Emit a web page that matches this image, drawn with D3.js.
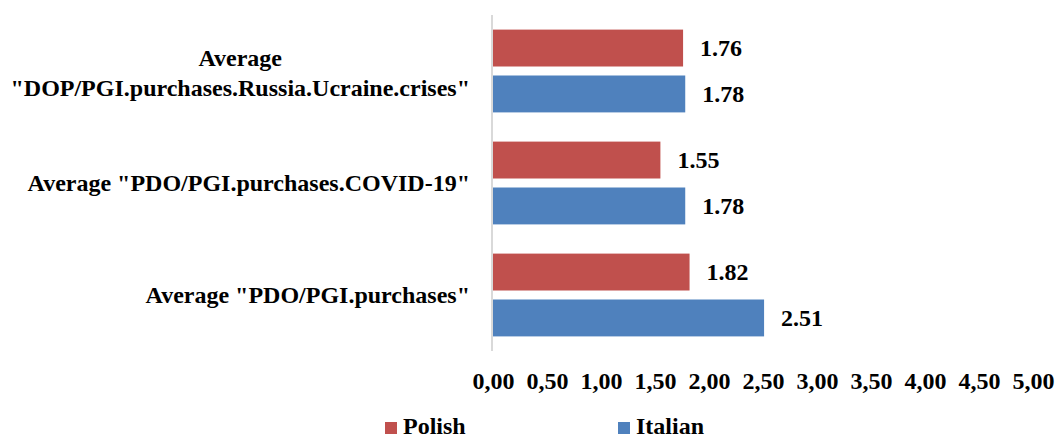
<!DOCTYPE html>
<html>
<head>
<meta charset="utf-8">
<script src="https://cdn.jsdelivr.net/npm/d3@7"></script>
<style>
  body { margin: 0; background: #fff; }
  text { font-family: "Liberation Serif", "Times New Roman", serif; font-weight: bold; fill: #000; }
</style>
</head>
<body>
<div id="chart"></div>
<script>
// Data
const categories = [
    ['Average', '"DOP/PGI.purchases.Russia.Ucraine.crises"'],
    ['Average "PDO/PGI.purchases.COVID-19"'],
    ['Average "PDO/PGI.purchases"']
];
const seriesNames = ['Polish', 'Italian'];
const polishValues = [1.76, 1.55, 1.82];
const italianValues = [1.78, 1.78, 2.51];
const tickValues = [0, 0.5, 1, 1.5, 2, 2.5, 3, 3.5, 4, 4.5, 5];
const colors = ['#c0504d', '#4f81bd'];

const width = 1061, height = 437;
const plotLeft = 493, plotRight = 1033, plotTop = 15, plotBottom = 351;
const fontSize = 24;

const svg = d3.select('#chart').append('svg')
    .attr('width', width)
    .attr('height', height);

const x = d3.scaleLinear().domain([0, 5]).range([plotLeft, plotRight]);
const y0 = d3.scaleBand().domain(d3.range(categories.length)).range([plotTop, plotBottom]).padding(0);
const y1 = d3.scaleBand().domain(seriesNames).range([0, y0.bandwidth()])
    .paddingInner(0.196).paddingOuter(0.318);

const rows = categories.map((c, i) => ({
    i: i,
    label: c,
    values: [polishValues[i], italianValues[i]]
}));

// Bars
const groups = svg.selectAll('.group')
    .data(rows)
    .enter()
    .append('g')
    .attr('class', 'group')
    .attr('transform', d => `translate(0, ${y0(d.i)})`);

groups.selectAll('rect')
    .data(d => d.values.map((v, j) => ({ name: seriesNames[j], value: v, j: j })))
    .enter()
    .append('rect')
    .attr('x', x(0))
    .attr('y', d => y1(d.name))
    .attr('width', d => x(d.value) - x(0))
    .attr('height', y1.bandwidth())
    .attr('fill', d => colors[d.j]);

// Value labels
groups.selectAll('.val')
    .data(d => d.values.map((v, j) => ({ name: seriesNames[j], value: v })))
    .enter()
    .append('text')
    .attr('class', 'val')
    .attr('x', d => x(d.value) + 17)
    .attr('y', d => y1(d.name) + y1.bandwidth() / 2)
    .attr('dy', '0.35em')
    .attr('font-size', fontSize)
    .text(d => d.value.toFixed(2));

// Category labels
const catText = svg.selectAll('.cat')
    .data(rows)
    .enter()
    .append('text')
    .attr('class', 'cat')
    .attr('font-size', fontSize)
    .attr('text-anchor', 'middle');

catText.each(function(d) {
    const t = d3.select(this);
    const n = d.label.length;
    const cy = y0(d.i) + y0.bandwidth() / 2 + (n > 1 ? 2 : 0);
    const lineH = 30;
    d.label.forEach((line, k) => {
        t.append('tspan')
            .attr('y', cy + (k - (n - 1) / 2) * lineH)
            .attr('dy', '0.35em')
            .text(line);
    });
    // right-align the block, centre each line within it
    const spans = t.selectAll('tspan');
    let maxW = 0;
    spans.each(function() { maxW = Math.max(maxW, this.getComputedTextLength()); });
    spans.attr('x', 470 - maxW / 2);
});

// Vertical axis line
svg.append('line')
    .attr('x1', plotLeft - 1).attr('x2', plotLeft - 1)
    .attr('y1', plotTop).attr('y2', plotBottom)
    .attr('stroke', '#d9d9d9')
    .attr('stroke-width', 2);

// X axis tick labels
const xAxis = d3.axisBottom(x)
    .tickValues(tickValues)
    .tickSize(0)
    .tickFormat(d => d3.format('.2f')(d).replace('.', ','));

const gx = svg.append('g')
    .attr('transform', `translate(0, ${plotBottom})`)
    .call(xAxis);
gx.select('.domain').remove();
gx.attr('font-family', null).attr('font-size', null);
gx.selectAll('text')
    .attr('font-size', fontSize)
    .attr('dy', '0.35em')
    .attr('y', 30);

// Legend
const legendItems = [
    { name: 'Polish', color: colors[0], x: 385 },
    { name: 'Italian', color: colors[1], x: 618 }
];
const legend = svg.selectAll('.legend')
    .data(legendItems)
    .enter()
    .append('g')
    .attr('class', 'legend')
    .attr('transform', d => `translate(${d.x}, 422)`);

legend.append('rect')
    .attr('width', 12)
    .attr('height', 12)
    .attr('fill', d => d.color);

legend.append('text')
    .attr('x', 18)
    .attr('y', 12)
    .attr('font-size', fontSize)
    .text(d => d.name);
</script>
</body>
</html>
